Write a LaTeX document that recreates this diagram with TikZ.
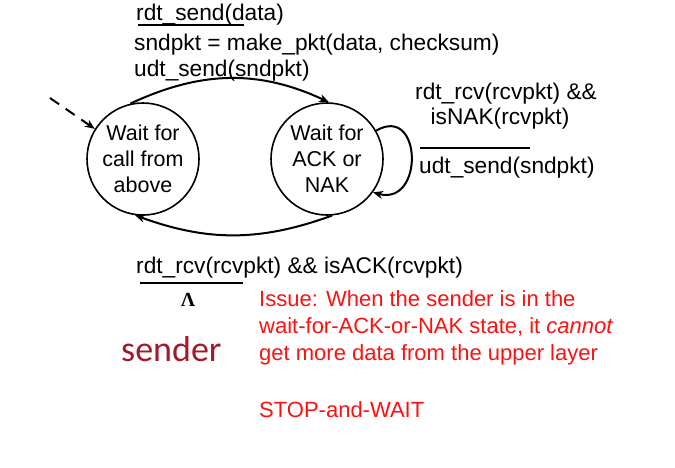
\documentclass[tikz,border=0pt]{standalone}
\usepackage{fontspec}
\setmainfont{Liberation Sans}
\newfontfamily\senderfont{Carlito}
\newfontfamily\lambdafont{Liberation Serif}
\usetikzlibrary{positioning,arrows.meta}
\definecolor{issuered}{HTML}{FF1010}
\definecolor{senderred}{HTML}{A3192E}
\tikzset{
  state/.style={draw,circle,line width=1.6pt,minimum size=112pt,inner sep=0pt,
                align=center,font=\fontsize{21.5}{26}\selectfont},
  fsm/.style={line width=2pt,-{Stealth[length=10pt,width=8pt]}},
  lbl/.style={anchor=west,inner sep=0pt,font=\fontsize{22.7}{26}\selectfont},
  bar/.style={line width=2.4pt},
  issue/.style={anchor=west,inner sep=0pt,text=issuered,align=left,
                font=\fontsize{22}{27}\selectfont}
}
\begin{document}
\begin{tikzpicture}[x=1pt,y=-1pt]
  \useasboundingbox (0,0) rectangle (675,467);
  % states
  \node[state] (call) at (143,159) {Wait for\\call from\\above};
  \node[state] (ack) at (327,159) {Wait for\\ACK or\\NAK};
  \coordinate (init) at (50,98);
  % transitions
  \draw[fsm,dash pattern=on 11pt off 8pt] (init) -- (call.148);
  \draw[fsm] (call.103) to[out=25,in=155] (ack.88);
  \draw[fsm] (ack.-85) to[out=-160,in=-20] (call.-98);
  \draw[fsm] (ack.30) to[out=30,in=-15,looseness=2.2] (ack.-36);
  % send label
  \node[lbl] (send) at (136,15) {rdt\_send(data)};
  \draw[bar] (send.south west) ++(2,-1) -- ++(106,0);
  \node[lbl] (mk) at (134,45) {sndpkt = make\_pkt(data, checksum)};
  \node[lbl] (udt) at (134,71) {udt\_send(sndpkt)};
  % NAK label
  \node[lbl,anchor=center] (nak1) at (506,94) {rdt\_rcv(rcvpkt) \&\&};
  \node[lbl,anchor=center] (nak2) at (500,119) {isNAK(rcvpkt)};
  \coordinate (nakl) at (420,148);
  \draw[bar] (nakl) -- ++(110,0);
  \node[lbl] (resend) at (419,168) {udt\_send(sndpkt)};
  % ACK label
  \node[lbl] (isack) at (136,268) {rdt\_rcv(rcvpkt) \&\& isACK(rcvpkt)};
  \coordinate (ackl) at (140,283);
  \draw[bar] (ackl) -- ++(103,0);
  \node[inner sep=0pt,font=\lambdafont\bfseries\fontsize{20}{20}\selectfont] (lam) at (188,300) {Λ};
  % notes
  \node[anchor=west,inner sep=0pt,text=senderred,font=\senderfont\fontsize{36}{36}\selectfont]
        (sender) at (121,349) {sender};
  \node[issue,anchor=north west] (issue) at (259,290)
        {Issue: When the sender is in the\\
         wait-for-ACK-or-NAK state, it \textit{cannot}\\
         get more data from the upper layer};
  \node[issue] (stop) at (259,410) {STOP-and-WAIT};
\end{tikzpicture}
\end{document}
